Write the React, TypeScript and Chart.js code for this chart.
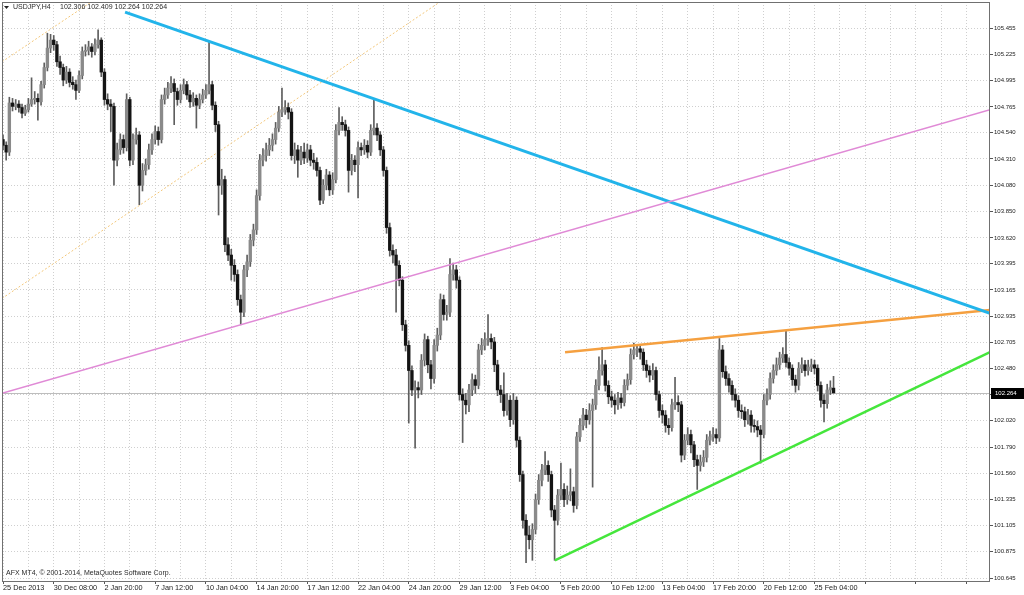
import React, { useEffect, useRef } from 'react';
import { Chart, registerables } from 'chart.js';

Chart.register(...registerables);

// ---- Data (USDJPY, H4, 25 Dec 2013 .. 26 Feb 2014) ----
const opens = [
  104.48,104.43,104.37,104.80,104.77,104.79,104.76,104.71,104.74,104.79,
  104.83,104.84,104.81,104.96,105.11,105.28,105.35,105.31,105.16,105.11,
  105.00,105.07,104.98,104.96,104.91,105.04,105.25,105.26,105.29,105.25,
  105.31,105.35,105.07,104.83,104.79,104.77,104.30,104.39,104.48,104.41,
  104.83,104.30,104.48,104.52,104.08,104.21,104.26,104.39,104.48,104.55,
  104.48,104.83,104.87,104.93,104.97,104.90,104.83,104.91,104.96,104.87,
  104.81,104.84,104.78,104.83,104.87,104.91,104.96,104.78,104.61,104.08,
  104.13,103.56,103.47,103.38,103.30,103.08,102.97,103.34,103.41,103.60,
  103.69,103.99,104.30,104.34,104.39,104.43,104.48,104.58,104.72,104.74,
  104.76,104.72,104.34,104.39,104.30,104.37,104.32,104.39,104.30,104.28,
  104.21,103.95,104.08,104.17,104.04,104.13,104.56,104.63,104.61,104.56,
  104.21,104.30,104.26,104.41,104.39,104.43,104.37,104.56,104.58,104.52,
  104.39,104.21,103.71,103.51,103.47,103.38,103.25,102.86,102.68,102.46,
  102.29,102.31,102.29,102.55,102.73,102.51,102.39,102.68,102.77,103.08,
  102.95,102.97,103.30,103.34,103.25,102.25,102.20,102.16,102.29,102.38,
  102.33,102.64,102.68,102.73,102.74,102.71,102.51,102.29,102.25,102.11,
  102.20,102.03,102.20,101.85,101.55,101.15,101.02,100.98,101.07,101.33,
  101.50,101.59,101.63,101.55,101.24,101.15,101.37,101.42,101.33,101.37,
  101.40,101.28,101.88,101.98,102.07,102.03,102.11,102.16,102.33,102.46,
  102.51,102.33,102.23,102.20,102.16,102.22,102.18,102.33,102.38,102.60,
  102.64,102.65,102.62,102.51,102.46,102.42,102.46,102.25,102.11,102.07,
  101.98,101.96,102.16,102.18,102.16,101.72,101.85,101.90,101.81,101.68,
  101.63,101.66,101.70,101.85,101.88,101.90,101.87,102.64,102.45,102.39,
  102.33,102.25,102.20,102.11,102.10,102.03,102.07,101.98,101.97,101.94,
  101.90,102.20,102.25,102.39,102.46,102.51,102.57,102.60,102.53,102.48,
  102.38,102.33,102.48,102.51,102.46,102.49,102.51,102.48,102.33,102.20,
  102.17,102.29,102.306,
];

const highs = [
  104.52,104.46,104.85,104.84,104.83,104.82,104.79,104.78,104.84,105.02,
  104.90,104.88,104.99,105.15,105.41,105.40,105.39,105.34,105.21,105.14,
  105.12,105.10,105.03,105.00,105.08,105.29,105.31,105.34,105.32,105.36,
  105.44,105.37,105.10,104.88,104.83,104.80,104.45,104.53,104.52,104.88,
  104.85,104.53,104.58,104.55,104.27,104.31,104.44,104.53,104.60,104.59,
  104.87,104.93,104.98,105.03,105.01,104.93,104.96,105.01,104.99,104.91,
  104.89,104.87,104.88,104.92,104.96,105.33,104.99,104.81,104.64,104.22,
  104.16,103.62,103.52,103.43,103.34,103.12,103.38,103.47,103.65,103.74,
  104.04,104.35,104.40,104.45,104.49,104.53,104.63,104.77,104.93,104.82,
  104.80,104.75,104.45,104.43,104.42,104.45,104.44,104.43,104.36,104.32,
  104.24,104.13,104.22,104.20,104.19,104.61,104.76,104.68,104.65,104.59,
  104.35,104.34,104.46,104.45,104.48,104.47,104.61,104.84,104.62,104.55,
  104.42,104.24,103.75,103.56,103.52,103.42,103.28,102.90,102.72,102.50,
  102.37,102.36,102.60,102.78,102.76,102.55,102.73,102.83,103.13,103.12,
  103.03,103.44,103.40,103.38,103.28,102.30,102.26,102.34,102.43,102.42,
  102.69,102.74,102.79,102.95,102.78,102.75,102.55,102.33,102.44,102.26,
  102.24,102.26,102.23,101.88,101.58,101.20,101.10,101.12,101.38,101.55,
  101.64,101.75,101.67,101.58,101.28,101.42,101.65,101.47,101.45,101.60,
  101.44,101.92,102.04,102.13,102.12,102.17,102.21,102.38,102.58,102.66,
  102.55,102.37,102.28,102.25,102.27,102.26,102.38,102.43,102.65,102.70,
  102.69,102.68,102.65,102.55,102.50,102.52,102.49,102.28,102.16,102.11,
  102.04,102.21,102.40,102.24,102.19,101.90,101.96,101.94,101.84,101.72,
  101.72,101.76,101.90,101.93,101.96,101.95,102.74,102.68,102.50,102.43,
  102.37,102.30,102.24,102.16,102.14,102.12,102.11,102.03,102.02,101.98,
  102.25,102.30,102.44,102.51,102.57,102.62,102.66,102.81,102.57,102.51,
  102.42,102.53,102.57,102.55,102.55,102.56,102.55,102.51,102.36,102.25,
  102.34,102.37,102.409,
];

const lows = [
  104.39,104.30,104.34,104.73,104.74,104.72,104.67,104.69,104.72,104.77,
  104.79,104.65,104.78,104.93,105.08,105.24,105.26,105.12,105.05,104.95,
  104.97,104.94,104.92,104.83,104.89,105.01,105.21,105.22,105.20,105.22,
  105.28,105.03,104.78,104.74,104.55,104.08,104.25,104.35,104.36,104.38,
  104.25,104.26,104.44,103.91,104.03,104.17,104.22,104.35,104.44,104.43,
  104.45,104.79,104.84,104.89,104.61,104.78,104.80,104.88,104.83,104.76,
  104.77,104.58,104.75,104.80,104.84,104.88,104.74,104.55,103.82,104.00,
  103.50,103.42,103.25,103.24,103.03,102.86,102.93,103.28,103.37,103.55,
  103.65,103.95,104.25,104.29,104.34,104.38,104.44,104.55,104.68,104.70,
  104.66,104.30,104.27,104.15,104.26,104.27,104.28,104.25,104.22,104.16,
  103.91,103.92,104.04,103.99,104.00,104.10,104.52,104.56,104.51,104.02,
  104.17,104.20,103.97,104.34,104.35,104.32,104.34,104.52,104.47,104.34,
  104.16,103.66,103.46,103.40,102.97,103.20,102.81,102.63,102.00,102.24,
  101.78,102.22,102.25,102.50,102.44,102.30,102.35,102.63,102.73,102.90,
  102.90,102.93,103.25,103.18,102.20,101.83,102.08,102.10,102.24,102.26,
  102.30,102.60,102.64,102.68,102.65,102.45,102.24,102.18,102.06,102.07,
  101.97,101.99,101.79,101.49,101.08,100.78,100.90,100.80,101.03,101.29,
  101.45,101.55,101.49,101.18,100.80,101.11,101.33,101.27,101.29,101.32,
  101.22,101.25,101.84,101.94,101.96,101.99,101.44,102.12,102.29,102.42,
  102.28,102.17,102.14,102.08,102.12,102.13,102.15,102.29,102.34,102.56,
  102.58,102.56,102.46,102.40,102.36,102.38,102.20,102.05,102.00,101.92,
  101.90,101.93,102.12,102.10,101.66,101.68,101.81,101.74,101.62,101.42,
  101.58,101.62,101.66,101.81,101.84,101.82,101.84,102.40,102.33,102.27,
  102.20,102.14,102.05,102.04,101.97,101.99,101.92,101.92,101.88,101.65,
  101.87,102.16,102.21,102.35,102.42,102.47,102.53,102.49,102.42,102.33,
  102.27,102.29,102.44,102.41,102.42,102.45,102.43,102.28,102.14,102.01,
  102.13,102.25,102.264,
];

const closes = [
  104.43,104.37,104.80,104.77,104.79,104.76,104.71,104.74,104.79,104.83,
  104.84,104.81,104.96,105.11,105.28,105.35,105.31,105.16,105.11,105.00,
  105.07,104.98,104.96,104.91,105.04,105.25,105.26,105.29,105.25,105.31,
  105.35,105.07,104.83,104.79,104.77,104.30,104.39,104.48,104.41,104.83,
  104.30,104.48,104.52,104.08,104.21,104.26,104.39,104.48,104.55,104.48,
  104.83,104.87,104.93,104.97,104.90,104.83,104.91,104.96,104.87,104.81,
  104.84,104.78,104.83,104.87,104.91,104.96,104.78,104.61,104.08,104.13,
  103.56,103.47,103.38,103.30,103.08,102.97,103.34,103.41,103.60,103.69,
  103.99,104.30,104.34,104.39,104.43,104.48,104.58,104.72,104.74,104.76,
  104.72,104.34,104.39,104.30,104.37,104.32,104.39,104.30,104.28,104.21,
  103.95,104.08,104.17,104.04,104.13,104.56,104.63,104.61,104.56,104.21,
  104.30,104.26,104.41,104.39,104.43,104.37,104.56,104.58,104.52,104.39,
  104.21,103.71,103.51,103.47,103.38,103.25,102.86,102.68,102.46,102.29,
  102.31,102.29,102.55,102.73,102.51,102.39,102.68,102.77,103.08,102.95,
  102.97,103.30,103.34,103.25,102.25,102.20,102.16,102.29,102.38,102.33,
  102.64,102.68,102.73,102.74,102.71,102.51,102.29,102.25,102.11,102.20,
  102.03,102.20,101.85,101.55,101.15,101.02,100.98,101.07,101.33,101.50,
  101.59,101.63,101.55,101.24,101.15,101.37,101.42,101.33,101.37,101.40,
  101.28,101.88,101.98,102.07,102.03,102.11,102.16,102.33,102.46,102.51,
  102.33,102.23,102.20,102.16,102.22,102.18,102.33,102.38,102.60,102.64,
  102.65,102.62,102.51,102.46,102.42,102.46,102.25,102.11,102.07,101.98,
  101.96,102.16,102.18,102.16,101.72,101.85,101.90,101.81,101.68,101.63,
  101.66,101.70,101.85,101.88,101.90,101.87,102.64,102.45,102.39,102.33,
  102.25,102.20,102.11,102.10,102.03,102.07,101.98,101.97,101.94,101.90,
  102.20,102.25,102.39,102.46,102.51,102.57,102.60,102.53,102.48,102.38,
  102.33,102.48,102.51,102.46,102.49,102.51,102.48,102.33,102.20,102.17,
  102.29,102.31,102.264,
];

// one label every 16 bars (bar 0, 16, 32, ...)
const xTickLabels = [
  '25 Dec 2013', '30 Dec 08:00', '2 Jan 20:00', '7 Jan 12:00', '10 Jan 04:00',
  '14 Jan 20:00', '17 Jan 12:00', '22 Jan 04:00', '24 Jan 20:00', '29 Jan 12:00',
  '3 Feb 04:00', '5 Feb 20:00', '10 Feb 12:00', '13 Feb 04:00', '17 Feb 20:00',
  '20 Feb 12:00', '25 Feb 04:00',
];

const yTickValues = [
  105.455, 105.225, 104.995, 104.765, 104.540, 104.310, 104.080, 103.850,
  103.620, 103.395, 103.165, 102.935, 102.705, 102.480, 102.250, 102.020,
  101.790, 101.560, 101.335, 101.105, 100.875, 100.645,
];

const yMin = 100.619;
const yMax = 105.683;
const xMin = -0.32;
const xMax = 311.36;

const bidPrice = 102.264;
const symbolTitle = 'USDJPY,H4';
const headerQuote = '102.306 102.409 102.264 102.264';
const footerText = 'AFX MT4, \u00A9 2001-2014, MetaQuotes Software Corp.';

// trend lines: [barIndex, price]
const blueLine = [{ x: 38.5, y: 105.595 }, { x: 311.36, y: 102.96 }];
const pinkLine = [{ x: -0.32, y: 102.26 }, { x: 311.36, y: 104.74 }];
const greenLine = [{ x: 174.1, y: 100.80 }, { x: 311.36, y: 102.62 }];
const orangeLine = [{ x: 177.3, y: 102.62 }, { x: 311.36, y: 102.99 }];
const channelLow = [{ x: -0.32, y: 103.09 }, { x: 137.8, y: 105.683 }];
const channelHigh = [{ x: -0.32, y: 105.16 }, { x: 27.8, y: 105.683 }];

const FONT = 'Liberation Sans';

export default function App() {
  const ref = useRef<HTMLCanvasElement>(null);

  useEffect(() => {
    if (!ref.current) return;
    const bodies = opens.map((o, i) => ({ x: i, y: [o, closes[i]] }));
    const wicks = lows.map((l, i) => ({ x: i, y: [l, highs[i]] }));

    const overlay = {
      id: 'mt4overlay',
      beforeDatasetsDraw(chart: any) {
        const { ctx, chartArea: a, scales } = chart;
        const py = Math.round(scales.y.getPixelForValue(bidPrice)) + 0.5;
        ctx.save();
        ctx.strokeStyle = '#bdbdbd';
        ctx.lineWidth = 1;
        ctx.beginPath();
        ctx.moveTo(a.left, py);
        ctx.lineTo(a.right, py);
        ctx.stroke();
        ctx.restore();
      },
      afterDraw(chart: any) {
        const { ctx, chartArea: a, scales } = chart;
        ctx.save();
        // frame
        ctx.strokeStyle = '#707070';
        ctx.lineWidth = 1;
        ctx.strokeRect(a.left + 0.5, a.top + 0.5, a.right - a.left - 1, a.bottom - a.top);
        // header
        ctx.fillStyle = '#222';
        ctx.beginPath();
        ctx.moveTo(4, 6);
        ctx.lineTo(9, 6);
        ctx.lineTo(6.5, 9);
        ctx.closePath();
        ctx.fill();
        ctx.fillStyle = '#2a2a2a';
        ctx.font = `7px "${FONT}"`;
        ctx.textBaseline = 'middle';
        ctx.textAlign = 'left';
        ctx.fillText(symbolTitle, 13, 7.5);
        ctx.fillText(headerQuote, 60, 7.5);
        // footer
        ctx.fillText(footerText, 6, 573);
        // bid price box
        const py = scales.y.getPixelForValue(bidPrice);
        ctx.fillStyle = '#000';
        ctx.fillRect(991, Math.round(py) - 5, 33, 11);
        ctx.fillStyle = '#fff';
        ctx.font = `6px "${FONT}"`;
        ctx.fillText(bidPrice.toFixed(3), 995, Math.round(py) + 0.5);
        ctx.restore();
      },
    };

    const line = (data: any, color: string, width: number, dash: number[] = [], order = 0) => ({
      type: 'line',
      data,
      borderColor: color,
      borderWidth: width,
      borderDash: dash,
      pointRadius: 0,
      fill: false,
      tension: 0,
      order,
    });

    const chart = new Chart(ref.current, {
      type: 'bar',
      data: {
        datasets: [
          line(channelLow, '#f3c77a', 1, [2, 2], 4),
          line(channelHigh, '#f3c77a', 1, [2, 2], 4),
          {
            type: 'bar',
            data: wicks,
            backgroundColor: '#5e5e5e',
            barThickness: 1,
            grouped: false,
            borderWidth: 0,
            order: 3,
          },
          {
            type: 'bar',
            data: bodies,
            backgroundColor: (c: any) => {
              const i = c.dataIndex;
              return closes[i] >= opens[i] ? '#8a8a8a' : '#141414';
            },
            barThickness: 2.7,
            grouped: false,
            borderWidth: 0,
            order: 2,
          },
          line(pinkLine, '#e08ad6', 1.5),
          line(blueLine, '#22b4ea', 3),
          line(orangeLine, '#f5a040', 2.5),
          line(greenLine, '#45e63c', 2.5),
        ] as any,
      },
      options: {
        animation: false,
        responsive: false,
        maintainAspectRatio: false,
        layout: { padding: { left: 2, top: 2, right: 0, bottom: 0 } },
        plugins: { legend: { display: false }, tooltip: { enabled: false } },
        scales: {
          x: {
            type: 'linear',
            min: xMin,
            max: xMax,
            offset: false,
            grid: {
              offset: false,
              color: '#cfcfcf',
              lineWidth: 1,
              drawTicks: true,
              tickLength: 3,
              tickBorderDash: [],
              tickColor: (c: any) => (c.tick && c.tick.value % 16 === 0 ? '#555' : 'rgba(0,0,0,0)'),
            },
            border: { display: false, dash: [1, 2] },
            afterBuildTicks: (s: any) => {
              const t = [];
              for (let v = 0; v <= s.max; v += 8) t.push({ value: v });
              s.ticks = t;
            },
            afterFit: (s: any) => {
              s.height = 14;
              s.paddingLeft = 0;
              s.paddingRight = 0;
            },
            ticks: {
              autoSkip: false,
              maxRotation: 0,
              minRotation: 0,
              align: 'start',
              padding: 0,
              color: '#222',
              font: { family: FONT, size: 7.3 },
              callback: (v: any) => (v % 16 === 0 && xTickLabels[v / 16] ? xTickLabels[v / 16] : ''),
            },
          },
          y: {
            type: 'linear',
            position: 'right',
            min: yMin,
            max: yMax,
            beginAtZero: false,
            grid: {
              color: '#cfcfcf',
              lineWidth: 1,
              drawTicks: true,
              tickLength: 3,
              tickBorderDash: [],
              tickColor: '#555',
            },
            border: { display: false, dash: [1, 2] },
            afterBuildTicks: (s: any) => {
              s.ticks = yTickValues.map((v) => ({ value: v }));
            },
            afterFit: (s: any) => {
              s.width = 34;
              s.paddingTop = 0;
              s.paddingBottom = 0;
            },
            ticks: {
              padding: 1,
              color: '#222',
              font: { family: FONT, size: 6 },
              callback: (v: any) => Number(v).toFixed(3),
            },
          },
        },
      } as any,
      plugins: [overlay],
    });

    return () => chart.destroy();
  }, []);

  return (
    <div style={{ position: 'fixed', left: 0, top: 0, width: 1024, height: 595, background: '#fff' }}>
      <canvas ref={ref} width={1024} height={595} style={{ display: 'block' }} />
    </div>
  );
}
